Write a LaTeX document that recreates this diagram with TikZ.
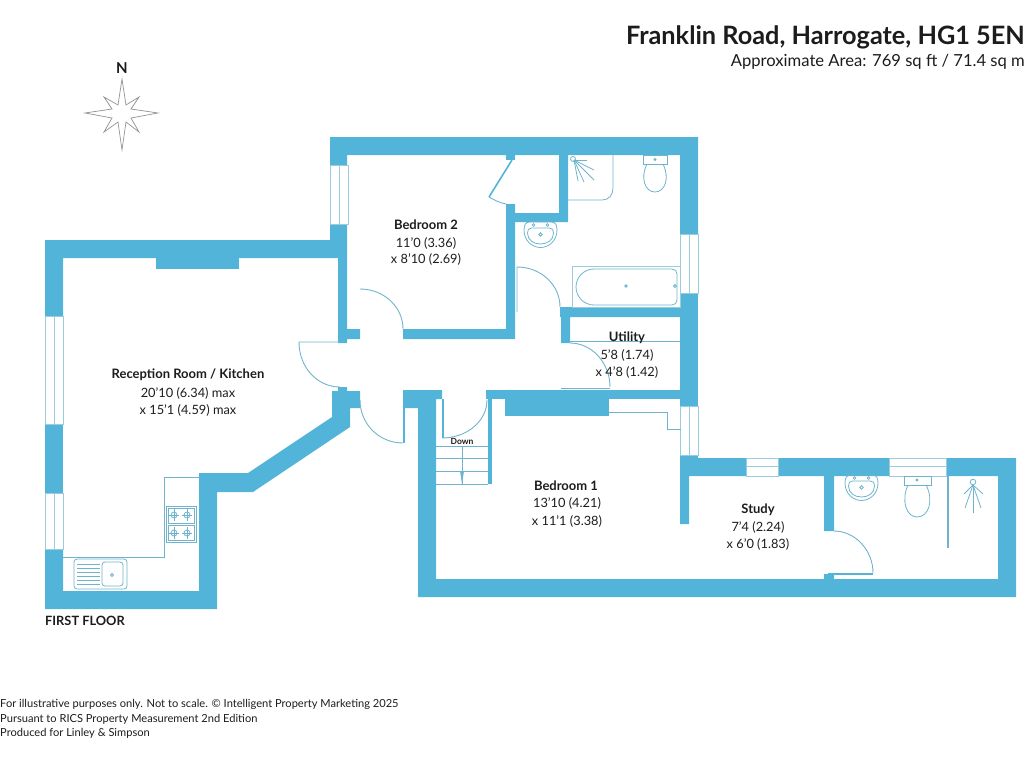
\documentclass[tikz,border=0pt]{standalone}
\usepackage{fontspec}
\setmainfont{Lato}
\definecolor{wall}{HTML}{52B4D8}
\definecolor{fix}{HTML}{6FB4CC}
\definecolor{winline}{HTML}{9CCBDD}
\definecolor{ink}{HTML}{1C1C1C}
\tikzset{
 wallfill/.style={fill=wall,draw=none},
 fixture/.style={draw=fix,line width=0.8pt,fill=none},
 doorarc/.style={draw=fix,line width=0.9pt},
 winbox/.style={draw=winline,line width=0.7pt,fill=white},
 winmid/.style={draw=winline,line width=0.8pt},
 roomtitle/.style={font=\fontsize{13}{15}\selectfont\bfseries,text=ink,inner sep=0pt},
 roomdim/.style={font=\fontsize{12.8}{15}\selectfont,text=ink,inner sep=0pt},
 foot/.style={font=\fontsize{11.1}{13}\selectfont,text=ink,anchor=west,inner sep=0pt},
 pics/basin/.style={code={
  \draw[fixture] (-11,0)--(11,0) .. controls (15,0) and (16.5,3) .. (16.5,8) .. controls (16.5,19) and (8,25.5) .. (0,25.5) .. controls (-8,25.5) and (-16.5,19) .. (-16.5,8) .. controls (-16.5,3) and (-15,0) .. (-11,0)--cycle;
  \draw[fixture] (-9,6)--(9,6) .. controls (12,6) and (13,8) .. (13,11) .. controls (13,18) and (7,22) .. (0,22) .. controls (-7,22) and (-13,18) .. (-13,11) .. controls (-13,8) and (-12,6) .. (-9,6)--cycle;
  \draw[fixture] (-7,3) circle[radius=1.4];
  \draw[fixture] (7,3) circle[radius=1.4];
  \draw[fixture] (0,12.5) circle[radius=1.8];
 }},
}
\begin{document}
\begin{tikzpicture}[x=1pt,y=-1pt]
\useasboundingbox (0,0) rectangle (1024,768);
% walls
\fill[wallfill] (330,137)--(698,137)--(698,234)--(680,234)--(680,155)--(347,155)--(347,165)--(330,165)--cycle;
\fill[wallfill] (680,293)--(698,293)--(698,406)--(680,406)--cycle;
\fill[wallfill] (45,240)--(330,240)--(330,224)--(347,224)--(347,329)--(360,329)--(360,339)--(347,339)--(347,343)--(338,343)--(338,258)--(63,258)--(63,316)--(45,316)--cycle;
\fill[wallfill] (156,258) rectangle (239,269);
\fill[wallfill] (45,424) rectangle (63,493);
\fill[wallfill] (45,549)--(63,549)--(63,591)--(199,591)--(199,473)--(248,473)--(332,417)--(332,391)--(338,391)--(338,387)--(347,387)--(347,391)--(360,391)--(360,408)--(350,408)--(350,427)--(253,492)--(217,492)--(217,609)--(45,609)--cycle;
\fill[wallfill] (403,329)--(506,329)--(506,204)--(515,204)--(515,213)--(559,213)--(559,155)--(568,155)--(568,222)--(515,222)--(515,339)--(403,339)--cycle;
\fill[wallfill] (506,155) rectangle (515,160);
\fill[wallfill] (560,307)--(680,307)--(680,317)--(570,317)--(570,343)--(561,343)--(561,317)--(560,317)--cycle;
\fill[wallfill] (486,390) rectangle (680,399);
\fill[wallfill] (505,399) rectangle (609,416);
\fill[wallfill] (403,390)--(442,390)--(442,399)--(436,399)--(436,579)--(824,579)--(824,574)--(834,574)--(834,579)--(998,579)--(998,476)--(946,476)--(946,458)--(1016,458)--(1016,597)--(418,597)--(418,408)--(403,408)--cycle;
\fill[wallfill] (680,455)--(698,455)--(698,458)--(746,458)--(746,476)--(689,476)--(689,524)--(680,524)--cycle;
\fill[wallfill] (778,458)--(889,458)--(889,476)--(834,476)--(834,531)--(824,531)--(824,476)--(778,476)--cycle;
\fill[wallfill] (488,399) rectangle (492,484);
\fill[wallfill] (442,399) rectangle (444,438);
\fill[wallfill] (403,408) rectangle (405,443);
% windows
\foreach \ya/\yb/\xa in {165/224/330,234/293/680,406/455/680,316/424/45,493/549/45}{
 \draw[winbox] (\xa,\ya) rectangle (\xa+18,\yb);
 \draw[winmid] (\xa+9,\ya)--(\xa+9,\yb);
}
\foreach \xa/\xb in {746/778,889/946}{
 \draw[winbox] (\xa,458) rectangle (\xb,476);
 \draw[winmid] (\xa,466)--(\xb,466);
}
% doors
\draw[doorarc] (345,342)--(299,342) .. controls (299,367) and (317,387) .. (340,387);
\draw[doorarc] (360,289) .. controls (384,289) and (403,307) .. (403,329);
\draw[doorarc] (517,312)--(517,267) .. controls (541,267) and (560,285) .. (560,307);
\draw[doorarc] (570,343) .. controls (592,343) and (610,363) .. (610,387);
\draw[doorarc] (561,388)--(610,388);
\draw[doorarc] (360,400) .. controls (360,424) and (379,443) .. (403,443);
\draw[doorarc] (487,400) .. controls (487,421) and (467,438) .. (442,438);
\draw[doorarc] (834,531) .. controls (855,531) and (873,550) .. (873,573);
\draw[draw=wall,line width=1.6pt] (828,574)--(873,574);
% cupboard door
\draw[draw=wall,line width=1.6pt] (512,160)--(489,197);
\draw[doorarc] (489,197) .. controls (494,200) and (500,203) .. (506,204);
% kitchen
\draw[fixture] (199,477)--(164,477)--(164,557)--(63,557);
\draw[fixture] (166,506) rectangle (196,542);
\draw[fixture] (168,508) rectangle (194,523);
\draw[fixture] (168,525) rectangle (194,540);
\foreach \cx/\cy in {174/515,187/515,174/533,187/533}{
 \draw[fixture] (\cx,\cy) circle[radius=3];
 \draw[fixture] (\cx-5,\cy)--(\cx+5,\cy);
 \draw[fixture] (\cx,\cy-6)--(\cx,\cy+6);
}
\draw[fixture,rounded corners=3pt] (74,559) rectangle (127,589);
\draw[fixture,rounded corners=3pt] (102,562) rectangle (123,586);
\foreach \yy in {564,568,572,576,580,584}{\draw[fixture] (77,\yy)--(100,\yy);}
\draw[fixture] (112,575) circle[radius=1.5];
% stairs
\foreach \yy in {446,458,471,484}{\draw[fixture] (436,\yy)--(488,\yy);}
\draw[fixture] (462,446)--(462,484);
\fill[fix] (460,471)--(464,471)--(462,484)--cycle;
% cupboard lines
\draw[fixture] (609,412)--(667,412)--(667,429)--(681,429);
\draw[fixture] (570,341)--(680,341);
% bath
\draw[winbox,fill=none] (572,266) rectangle (680,307);
\draw[fixture] (594,269)--(672,269) .. controls (675,269) and (677,271) .. (677,274)--(677,300) .. controls (677,303) and (675,305) .. (672,305)--(594,305) .. controls (584,305) and (576,297) .. (576,287) .. controls (576,277) and (584,269) .. (594,269)--cycle;
\draw[fixture] (626,286) circle[radius=1.3];
\draw[fixture] (675,286) circle[radius=1.5];
% shower upper
\draw[fixture] (613,155)--(613,188) .. controls (613,195) and (609,200) .. (602,200)--(568,200);
\draw[fixture] (573,159) circle[radius=2.5];
\foreach \ex/\ey in {587/160,594/170,594/180,584/182,578/181}{\draw[fixture] (574,160)--(\ex,\ey);}
% upper WC
\draw[fixture] (643,155) rectangle (667,164);
\draw[fixture] (655,159.5) circle[radius=1];
\draw[fixture] (647,164) .. controls (640,178) and (645,192) .. (655,192) .. controls (665,192) and (670,178) .. (663,164);
% basins
\pic at (540.5,222) {basin};
\pic at (861.5,475) {basin};
% lower WC
\draw[fixture] (904,476) rectangle (931,485);
\draw[fixture] (917,480) circle[radius=1];
\draw[fixture] (908,485) .. controls (901,500) and (906,517) .. (917,517) .. controls (929,517) and (934,500) .. (926,485);
% screen & lower shower
\draw[draw=fix,line width=1.1pt] (948,476)--(948,548);
\draw[fixture] (973,482) circle[radius=2.8];
\foreach \ex/\ey in {964/494,965/508,973/513,981/508,983/494}{\draw[fixture] (973,485)--(\ex,\ey);}
% compass
\draw[draw=gray!85,fill=white,line width=0.7pt,line join=miter]
 (122,79)--(126,105)--(139,97)--(131,109)--(158,113)--(131,118)--(139,132)--(126,122)--(122,150)--(118,122)--(104,132)--(112,118)--(85,113)--(112,109)--(104,97)--(118,105)--cycle;
\node[font=\fontsize{15}{17}\selectfont\bfseries,text=ink,inner sep=0pt] (north) at (122,68) {N};
% title
\node[font=\fontsize{25.3}{30}\selectfont\bfseries,text=ink,anchor=east,inner sep=0pt] (title) at (1025,37) {Franklin Road, Harrogate, HG1 5EN};
\node[font=\fontsize{16.6}{20}\selectfont,text=ink,anchor=east,inner sep=0pt] (area) at (1025,62) {Approximate Area: 769 sq ft / 71.4 sq m};
% rooms
\node[roomtitle] (r1) at (188,375) {Reception Room / Kitchen};
\node[roomdim] (r1a) at (188,393) {20'10 (6.34) max};
\node[roomdim] (r1b) at (188,410) {x 15'1 (4.59) max};
\node[roomtitle] (r2) at (426,225) {Bedroom 2};
\node[roomdim] (r2a) at (426,243) {11'0 (3.36)};
\node[roomdim] (r2b) at (426,259) {x 8'10 (2.69)};
\node[roomtitle] (r3) at (627,338) {Utility};
\node[roomdim] (r3a) at (627,355) {5'8 (1.74)};
\node[roomdim] (r3b) at (627,372) {x 4'8 (1.42)};
\node[roomtitle] (r4) at (566,486) {Bedroom 1};
\node[roomdim] (r4a) at (567,503) {13'10 (4.21)};
\node[roomdim] (r4b) at (567,521) {x 11'1 (3.38)};
\node[roomtitle] (r5) at (758,510) {Study};
\node[roomdim] (r5a) at (758,527) {7'4 (2.24)};
\node[roomdim] (r5b) at (758,544) {x 6'0 (1.83)};
\node[font=\fontsize{8.5}{10}\selectfont\bfseries,text=ink,inner sep=0pt] (down) at (462,441) {Down};
\node[font=\fontsize{12.8}{15}\selectfont\bfseries,text=ink,anchor=west,inner sep=0pt] (floor) at (45,621) {FIRST FLOOR};
% footer
\node[foot] (f1) at (0,704) {For illustrative purposes only. Not to scale. © Intelligent Property Marketing 2025};
\node[foot] (f2) at (0,719) {Pursuant to RICS Property Measurement 2nd Edition};
\node[foot] (f3) at (0,733) {Produced for Linley \& Simpson};
\end{tikzpicture}
\end{document}
